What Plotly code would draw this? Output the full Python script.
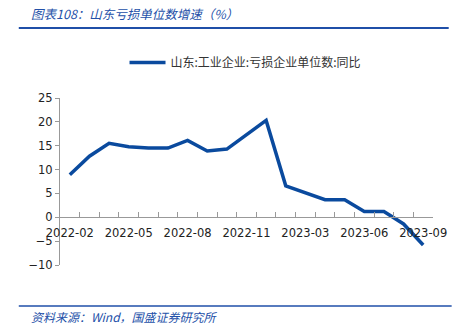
import plotly.graph_objects as go

# Monthly categories (Jan and Feb are reported together, so January is absent)
months = ["2022-02", "2022-03", "2022-04", "2022-05", "2022-06", "2022-07",
          "2022-08", "2022-09", "2022-10", "2022-11", "2022-12",
          "2023-02", "2023-03", "2023-04", "2023-05", "2023-06", "2023-07",
          "2023-08", "2023-09"]
# 山东:工业企业:亏损企业单位数:同比 (%)
loss_units_yoy = [8.9, 12.8, 15.5, 14.8, 14.5, 14.5, 16.1, 13.9, 14.3, 17.4,
                  20.3, 6.6, 5.1, 3.7, 3.7, 1.2, 1.2, -1.4, -5.8]
series_name = "山东:工业企业:亏损企业单位数:同比"
y_ticks = [-10, -5, 0, 5, 10, 15, 20, 25]

title_text = "图表108：山东亏损单位数增速（%）"
source_text = "资料来源：Wind，国盛证券研究所"

y_min, y_max = -10, 25
tick_text = [m if i % 3 == 0 else "" for i, m in enumerate(months)]

W, H = 459, 328
ML, MR, MT, MB = 60, 19, 98, 63
px_w = W - ML - MR
px_h = H - MT - MB


def fx(px):
    return (px - ML) / px_w


def fy(py):
    return (H - MB - py) / px_h


fig = go.Figure()
fig.add_trace(go.Scatter(
    x=months, y=loss_units_yoy, mode="lines", name=series_name,
    line=dict(color="#0A4A9E", width=3.5),
))

axis_font = dict(family="DejaVu Sans", size=11.5, color="#222222")

fig.update_layout(
    width=W, height=H,
    margin=dict(l=ML, r=MR, t=MT, b=MB),
    paper_bgcolor="white", plot_bgcolor="white",
    showlegend=True,
    legend=dict(
        orientation="h", x=fx(249), xanchor="center", y=fy(77), yanchor="bottom",
        font=dict(family="Noto Sans CJK SC", size=12, color="#333333"),
        itemwidth=36,
    ),
    xaxis=dict(
        type="category", categoryorder="array", categoryarray=months,
        range=[-0.5, len(months) - 0.5],
        tickmode="array", tickvals=months, ticktext=tick_text,
        tickson="boundaries", ticks="inside", ticklen=5, tickcolor="#999999",
        showline=True, linecolor="#999999", linewidth=1,
        showgrid=False, zeroline=False,
        anchor="free", position=(0 - y_min) / (y_max - y_min),
        tickfont=axis_font, tickangle=0, ticklabelstandoff=5,
    ),
    yaxis=dict(
        range=[y_min, y_max], tickmode="array", tickvals=y_ticks,
        ticks="outside", ticklen=4, tickcolor="#999999",
        showline=True, linecolor="#999999", linewidth=1,
        showgrid=False, zeroline=False,
        tickfont=axis_font,
    ),
)

# chart title and source note
fig.add_annotation(
    text="<i>" + title_text + "</i>", xref="paper", yref="paper",
    x=fx(28), y=fy(25), xanchor="left", yanchor="bottom", showarrow=False,
    font=dict(family="Noto Sans CJK SC", size=12.5, color="#2350A8"),
)
fig.add_annotation(
    text="<i>" + source_text + "</i>", xref="paper", yref="paper",
    x=fx(28), y=fy(306), xanchor="left", yanchor="top", showarrow=False,
    font=dict(family="Noto Sans CJK SC", size=12, color="#2350A8"),
)

# separator rules under the title and above the source line
fig.add_shape(type="line", xref="paper", yref="paper",
              x0=fx(18), x1=fx(456), y0=fy(28), y1=fy(28),
              line=dict(color="#1F4FA8", width=2))
fig.add_shape(type="line", xref="paper", yref="paper",
              x0=fx(18), x1=fx(459), y0=fy(306), y1=fy(306),
              line=dict(color="#1F4FA8", width=1.5))

fig.write_html("out.html")
